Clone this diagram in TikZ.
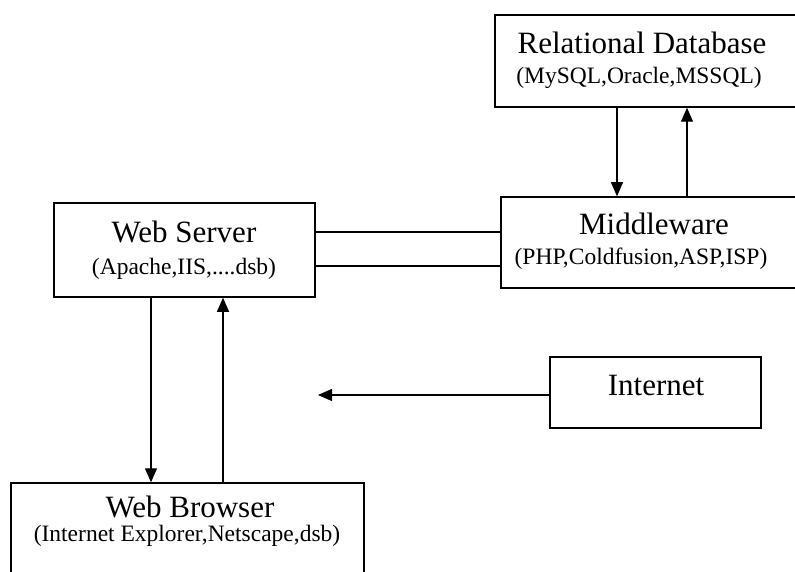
\documentclass[tikz,border=0pt]{standalone}
\usepackage{fontspec}
\setmainfont{Liberation Serif}
\usetikzlibrary{arrows.meta}
\begin{document}
\begin{tikzpicture}[x=1pt,y=1pt,
  box/.style={draw, line width=1.5pt, inner sep=0pt, rectangle},
  ttl/.style={font=\fontsize{31}{36}\selectfont, inner sep=0pt, anchor=base},
  sub/.style={font=\fontsize{23.5}{28}\selectfont, inner sep=0pt, anchor=base},
  arr/.style={line width=1.3pt, -{Triangle[length=14pt,width=12pt]}},
  link/.style={line width=1.3pt}]
\useasboundingbox (0,0) rectangle (795,-572);
% boxes
\node[box, minimum width=315pt, minimum height=92pt] (db) at (652.5,-61) {};
\node[box, minimum width=309pt, minimum height=91pt] (mw) at (655.5,-242.5) {};
\node[box, minimum width=261pt, minimum height=94pt] (ws) at (184.5,-250) {};
\node[box, minimum width=211pt, minimum height=71pt] (inet) at (655.5,-392.5) {};
\node[box, minimum width=353pt, minimum height=117pt] (wb) at (187.5,-541.5) {};
% texts
\node[ttl] (dbt) at (642,-54) {Relational Database};
\node[sub] (dbs) at (639,-84) {(MySQL,Oracle,MSSQL)};
\node[ttl] (mwt) at (654,-234) {Middleware};
\node[sub] (mws) at (641,-265) {(PHP,Coldfusion,ASP,ISP)};
\node[ttl] (wst) at (184,-242) {Web Server};
\node[sub] (wss) at (184,-274) {(Apache,IIS,....dsb)};
\node[ttl] (inett) at (656,-395) {Internet};
\node[ttl] (wbt) at (190,-517) {Web Browser};
\node[sub] (wbs) at (187,-541) {(Internet Explorer,Netscape,dsb)};
% connectors
\draw[arr] (db.south -| 617,0) -- (mw.north -| 617,0);
\draw[arr] (mw.north -| 687,0) -- (db.south -| 687,0);
\draw[link] (ws.east |- 0,-232) -- (mw.west |- 0,-232);
\draw[link] (ws.east |- 0,-266) -- (mw.west |- 0,-266);
\draw[arr] (ws.south -| 151,0) -- (wb.north -| 151,0);
\draw[arr] (wb.north -| 223,0) -- (ws.south -| 223,0);
\coordinate (inend) at (318,-395);
\draw[arr] (inet.west |- inend) -- (inend);
\end{tikzpicture}
\end{document}
